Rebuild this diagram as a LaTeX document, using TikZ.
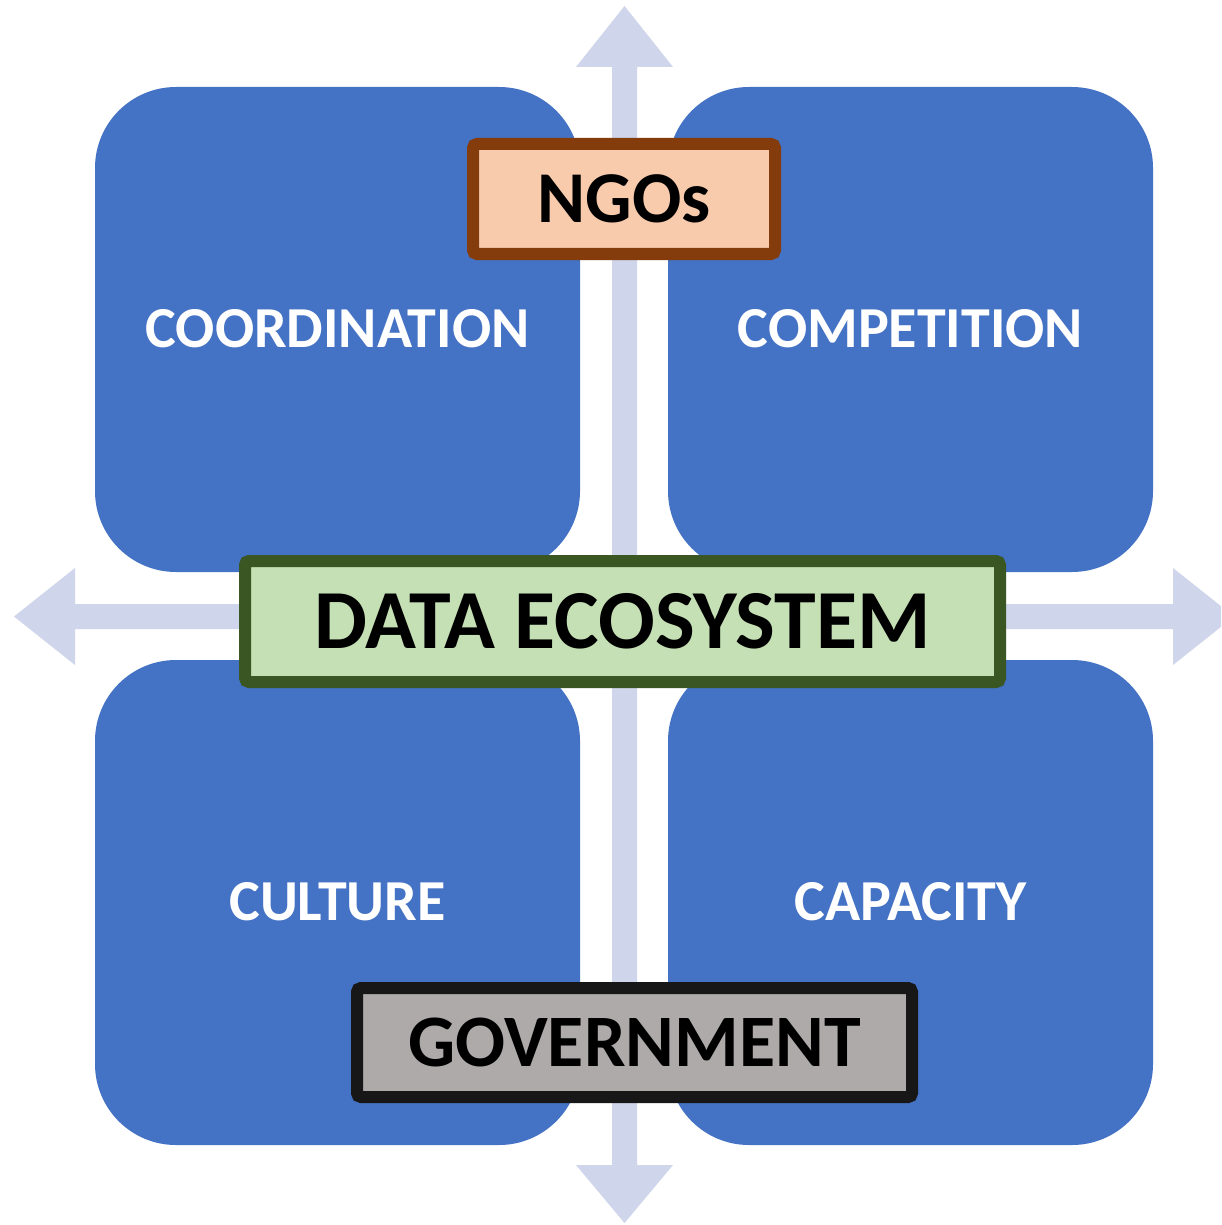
\documentclass[tikz,border=0pt]{standalone}
\usepackage{fontspec}
\setmainfont{Carlito}
\begin{document}
\begin{tikzpicture}[x=0.5pt,y=-0.5pt,
  quad/.style={rectangle,rounded corners=40.5pt,fill=quadblue,
    minimum width=242.5pt,minimum height=242.5pt,inner sep=0pt,
    text=white,font=\bfseries\fontsize{29}{29}\selectfont,
    text height=18.4pt,text depth=0pt},
  tagbox/.style={rectangle,rounded corners=2pt,line width=6pt,inner sep=0pt,
    text=black,text depth=0pt},
  axisarrow/.style={fill=axisgray}]
\definecolor{quadblue}{HTML}{4472C4}
\definecolor{axisgray}{HTML}{CFD5EA}
\definecolor{ngofill}{HTML}{F8CBAD}
\definecolor{ngoline}{HTML}{843C0C}
\definecolor{datafill}{HTML}{C5E0B4}
\definecolor{dataline}{HTML}{3A5723}
\definecolor{govfill}{HTML}{AEAAAA}
\definecolor{govline}{HTML}{181717}

\clip (0,0) rectangle (1221,1225);
\fill[white] (0,0) rectangle (1221,1225);

% vertical double arrow
\fill[axisarrow] (612,67) -- (576,67) -- (624.5,6) -- (673,67) -- (637,67)
  -- (637,1165) -- (673,1165) -- (624.5,1223) -- (576,1165) -- (612,1165) -- cycle;
% horizontal double arrow
\fill[axisarrow] (75,604) -- (75,568) -- (14,616.5) -- (75,665) -- (75,629)
  -- (1173,629) -- (1173,665) -- (1234,616.5) -- (1173,568) -- (1173,604) -- cycle;

% four quadrants
\node[quad] (coord) at (337.5,329.5) {COORDINATION};
\node[quad] (comp)  at (910.5,329.5) {COMPETITION};
\node[quad] (cult)  at (337.5,902.5) {CULTURE};
\node[quad] (capa)  at (910.5,902.5) {CAPACITY};

% actor and ecosystem labels
\node[tagbox,draw=ngoline,fill=ngofill,minimum width=151pt,minimum height=55pt,
  font=\bfseries\fontsize{36.5}{36.5}\selectfont,text height=23pt]
  (ngo) at (624,199) {NGOs};
\node[tagbox,draw=dataline,fill=datafill,minimum width=377.5pt,minimum height=60.5pt,
  font=\bfseries\fontsize{42}{42}\selectfont,text height=26.5pt]
  (eco) at (622.5,621.5) {DATA ECOSYSTEM};
\node[tagbox,draw=govline,fill=govfill,minimum width=277.5pt,minimum height=54.5pt,
  font=\bfseries\fontsize{37}{37}\selectfont,text height=23.5pt]
  (gov) at (634.5,1042.5) {GOVERNMENT};
\end{tikzpicture}
\end{document}
